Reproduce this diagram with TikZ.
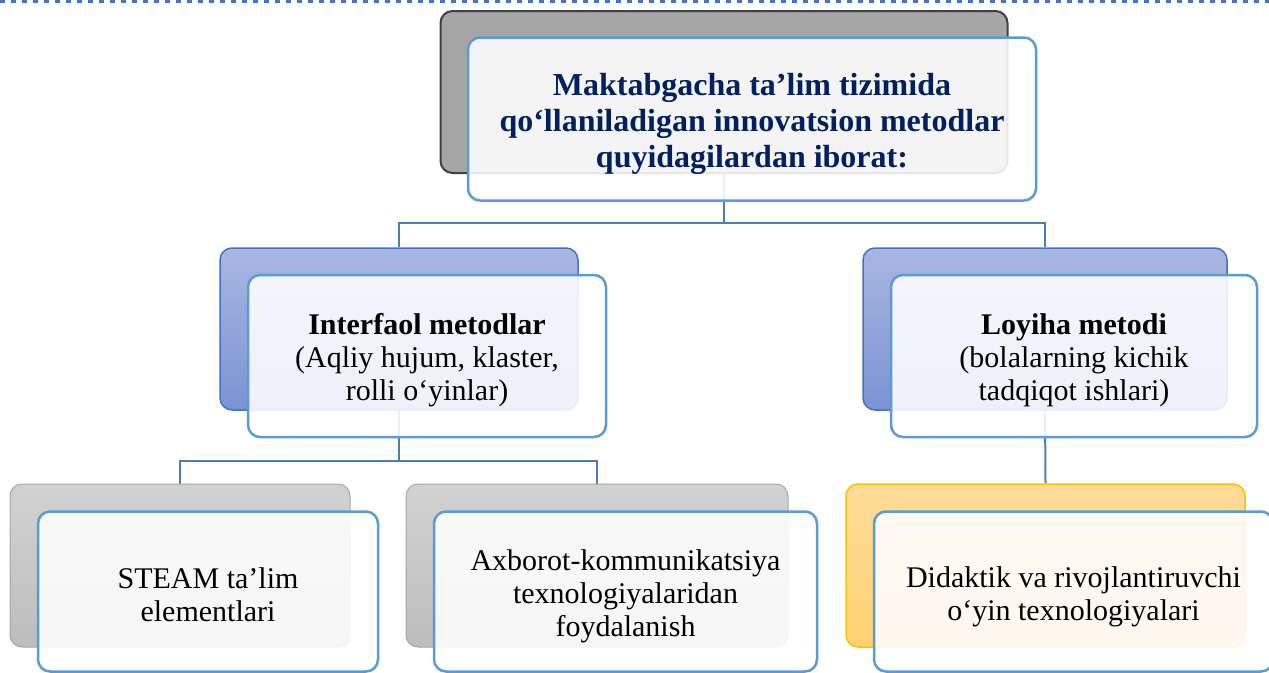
\documentclass[tikz,border=0pt]{standalone}
\usepackage{fontspec}
\setmainfont{Liberation Serif}
\pgfdeclarelayer{background}
\pgfsetlayers{background,main}
\definecolor{dotblue}{HTML}{4472C4}
\definecolor{connblue}{HTML}{4A7EBB}
\definecolor{frontblue}{HTML}{5B9BD5}
\definecolor{navy}{HTML}{002060}
\definecolor{topgray}{HTML}{A6A6A6}
\definecolor{topedge}{HTML}{404040}
\definecolor{midtop}{HTML}{A9B7E1}
\definecolor{midbot}{HTML}{7A93D4}
\definecolor{graytop}{HTML}{D2D2D2}
\definecolor{graybot}{HTML}{BDBDBD}
\definecolor{grayedge}{HTML}{A6A6A6}
\definecolor{orgtop}{HTML}{FEDC98}
\definecolor{orgbot}{HTML}{FED272}
\definecolor{orgedge}{HTML}{FFC000}
\tikzset{
  box/.style={rectangle, rounded corners=12pt, inner sep=0pt},
  topback/.style={box, fill=topgray, draw=topedge, line width=2pt},
  midback/.style={box, top color=midtop, bottom color=midbot, draw=dotblue, line width=1.5pt},
  grayback/.style={box, top color=graytop, bottom color=graybot, draw=grayedge, line width=1pt},
  orgback/.style={box, top color=orgtop, bottom color=orgbot, draw=orgedge, line width=1.5pt},
  frontbox/.style={box, fill=white, fill opacity=0.88, draw=frontblue, line width=2.5pt},
  conn/.style={draw=connblue, line width=2pt},
  maintext/.style={align=center, inner sep=0pt, font=\fontsize{30}{33}\selectfont},
  toptext/.style={align=center, inner sep=0pt, font=\fontsize{32}{36}\selectfont\bfseries, text=navy}
}
\begin{document}
\begin{tikzpicture}[x=1pt,y=-1pt]
\useasboundingbox (0,0) rectangle (1269,672);
\draw[dotblue, line width=3.4pt, dash pattern=on 5pt off 6pt] (0,1.7) -- (1269,1.7);

\coordinate (bus1) at (0,223);
\coordinate (bus2) at (0,461);

% back boxes
\node[topback, minimum width=567pt, minimum height=162pt] (topB) at (724,92) {};
\node[midback, minimum width=358pt, minimum height=162pt] (midLB) at (399,329) {};
\node[midback, minimum width=364pt, minimum height=162pt] (midRB) at (1045,329) {};
\node[grayback, minimum width=340pt, minimum height=163pt] (botLB) at (180,565.5) {};
\node[grayback, minimum width=382pt, minimum height=163pt] (botMB) at (597,565.5) {};
\node[orgback, minimum width=399pt, minimum height=163pt] (botRB) at (1045.5,565.5) {};

% connectors (behind boxes)
\begin{pgfonlayer}{background}
\draw[conn] (topB.south) -- (topB.south |- bus1) -| (midLB.north);
\draw[conn] (topB.south |- bus1) -| (midRB.north);
\draw[conn] (midLB.south) -- (midLB.south |- bus2) -| (botLB.north);
\draw[conn] (midLB.south |- bus2) -| (botMB.north);
\draw[conn] (midRB.south) -- (botRB.north);
\end{pgfonlayer}

% front boxes
\node[frontbox, minimum width=568pt, minimum height=163pt] (topF) at (752,119) {};
\node[frontbox, minimum width=358pt, minimum height=162pt] (midLF) at (427,356) {};
\node[frontbox, minimum width=366pt, minimum height=162pt] (midRF) at (1074,356) {};
\node[frontbox, minimum width=340pt, minimum height=160pt] (botLF) at (208,591.5) {};
\node[frontbox, minimum width=383pt, minimum height=160pt] (botMF) at (625.5,591.5) {};
\node[frontbox, minimum width=399pt, minimum height=160pt] (botRF) at (1073.5,591.5) {};

% texts
\node[toptext] (topT) at ([yshift=-5pt]topF.center)
  {Maktabgacha ta’lim tizimida\\qo‘llaniladigan innovatsion metodlar\\quyidagilardan iborat:};
\node[maintext] (midLT) at ([yshift=-4pt]midLF.center)
  {\textbf{Interfaol metodlar}\\(Aqliy hujum, klaster,\\rolli o‘yinlar)};
\node[maintext] (midRT) at ([yshift=-4pt]midRF.center)
  {\textbf{Loyiha metodi}\\(bolalarning kichik\\tadqiqot ishlari)};
\node[maintext] (botLT) at ([yshift=-3pt]botLF.center)
  {STEAM ta’lim\\elementlari};
\node[maintext] (botMT) at ([yshift=-5pt]botMF.center)
  {Axborot-kommunikatsiya\\texnologiyalaridan\\foydalanish};
\node[maintext] (botRT) at ([yshift=-5pt]botRF.center)
  {Didaktik va rivojlantiruvchi\\o‘yin texnologiyalari};
\end{tikzpicture}
\end{document}
